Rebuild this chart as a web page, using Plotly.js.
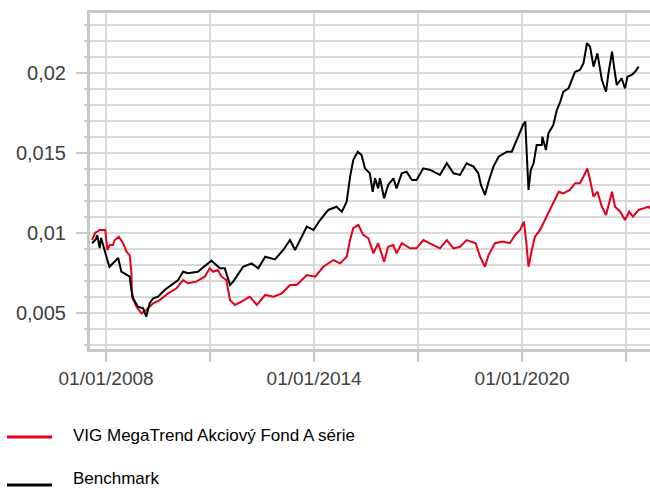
<!DOCTYPE html>
<html>
<head>
<meta charset="utf-8">
<script src="https://cdn.plot.ly/plotly-3.0.1.min.js"></script>
<style>html,body{margin:0;padding:0;background:#fff;}#chart{width:650px;height:488px;}</style>
</head>
<body>
<div id="chart"></div>
<script>
const fundName = "VIG MegaTrend Akciový Fond A série";
const benchName = "Benchmark";

const fundDates = ["2007-08-07","2007-09-08","2007-10-26","2007-12-24","2008-01-15","2008-02-10","2008-03-14","2008-04-01","2008-05-15","2008-06-28","2008-08-04","2008-09-06","2008-09-24","2008-10-01","2008-11-17","2009-01-08","2009-02-27","2009-05-12","2009-07-20","2009-10-16","2010-01-12","2010-03-22","2010-05-15","2010-08-08","2010-11-06","2010-12-28","2011-02-03","2011-03-25","2011-05-01","2011-06-20","2011-07-30","2011-09-20","2011-11-28","2012-02-24","2012-05-08","2012-08-04","2012-10-30","2013-01-26","2013-04-22","2013-07-01","2013-10-16","2014-01-12","2014-04-08","2014-07-22","2014-10-01","2014-12-10","2015-01-15","2015-02-17","2015-04-12","2015-06-02","2015-07-27","2015-09-17","2015-11-06","2016-01-08","2016-02-20","2016-04-15","2016-05-18","2016-07-12","2016-10-08","2016-12-15","2017-02-24","2017-06-10","2017-08-18","2017-10-30","2018-01-08","2018-03-18","2018-05-26","2018-08-30","2018-10-15","2018-12-06","2019-01-12","2019-03-22","2019-06-10","2019-08-24","2019-10-20","2019-12-10","2020-01-20","2020-02-15","2020-03-08","2020-04-12","2020-05-15","2020-07-08","2020-08-28","2020-10-22","2020-12-14","2021-01-20","2021-03-10","2021-05-18","2021-07-12","2021-09-01","2021-10-08","2021-11-18","2021-12-17","2022-01-22","2022-03-04","2022-04-20","2022-06-03","2022-07-08","2022-08-05","2022-09-06","2022-10-30","2022-12-20","2023-02-01","2023-03-14","2023-05-12","2023-07-01","2023-08-25","2023-09-15"];
const fundValues = [0.00956,0.01000,0.01019,0.01019,0.00894,0.00925,0.00925,0.00956,0.00977,0.00936,0.00883,0.00862,0.00758,0.00602,0.00539,0.00498,0.00519,0.00561,0.00581,0.00623,0.00654,0.00706,0.00686,0.00696,0.00727,0.00779,0.00758,0.00769,0.00727,0.00706,0.00581,0.00550,0.00571,0.00602,0.00550,0.00613,0.00602,0.00623,0.00675,0.00675,0.00737,0.00727,0.00789,0.00831,0.00810,0.00852,0.00956,0.01030,0.01050,0.00988,0.00967,0.00873,0.00936,0.00821,0.00914,0.00925,0.00873,0.00936,0.00904,0.00904,0.00956,0.00925,0.00904,0.00956,0.00904,0.00914,0.00956,0.00936,0.00852,0.00789,0.00862,0.00936,0.00946,0.00936,0.00988,0.01019,0.01071,0.00936,0.00789,0.00894,0.00977,0.01019,0.01081,0.01144,0.01206,0.01258,0.01248,0.01269,0.01311,0.01311,0.01352,0.01404,0.01331,0.01227,0.01258,0.01164,0.01113,0.01186,0.01258,0.01164,0.01133,0.01081,0.01133,0.01102,0.01144,0.01154,0.01164,0.01150];

const benchDates = ["2007-08-07","2007-09-15","2007-10-01","2007-10-26","2007-11-10","2007-12-16","2008-01-05","2008-02-06","2008-03-14","2008-05-08","2008-06-10","2008-08-04","2008-09-06","2008-09-24","2008-10-12","2008-12-01","2009-01-26","2009-02-27","2009-04-05","2009-05-12","2009-07-01","2009-09-09","2009-11-17","2010-01-30","2010-03-22","2010-05-15","2010-08-25","2010-11-20","2011-01-15","2011-03-07","2011-04-15","2011-06-05","2011-07-30","2011-09-01","2011-10-08","2011-12-15","2012-03-14","2012-05-22","2012-08-04","2012-11-14","2013-02-10","2013-04-22","2013-06-14","2013-08-08","2013-10-16","2013-12-25","2014-03-05","2014-05-30","2014-08-25","2014-10-20","2014-12-10","2015-01-15","2015-02-17","2015-04-05","2015-05-15","2015-06-20","2015-08-10","2015-09-10","2015-10-05","2015-11-06","2015-11-25","2016-01-08","2016-02-20","2016-04-15","2016-05-18","2016-07-12","2016-09-01","2016-10-27","2016-12-15","2017-02-24","2017-05-08","2017-08-18","2017-10-30","2018-01-08","2018-03-18","2018-05-26","2018-08-07","2018-09-27","2018-10-24","2018-12-06","2019-01-12","2019-03-05","2019-04-28","2019-07-24","2019-09-14","2019-11-20","2020-01-10","2020-02-03","2020-02-20","2020-03-08","2020-04-01","2020-05-01","2020-06-02","2020-07-26","2020-08-01","2020-09-08","2020-10-04","2020-11-24","2021-01-01","2021-02-06","2021-03-10","2021-05-04","2021-06-06","2021-07-12","2021-09-01","2021-10-08","2021-11-14","2021-12-17","2022-01-22","2022-03-04","2022-04-20","2022-06-03","2022-06-28","2022-08-05","2022-08-26","2022-09-24","2022-11-14","2022-12-20","2023-01-15","2023-02-28","2023-04-05","2023-05-12"];
const benchValues = [0.00936,0.00960,0.00987,0.00906,0.00969,0.00883,0.00852,0.00789,0.00812,0.00844,0.00758,0.00737,0.00727,0.00644,0.00592,0.00539,0.00529,0.00477,0.00561,0.00592,0.00602,0.00644,0.00675,0.00706,0.00758,0.00748,0.00758,0.00800,0.00827,0.00800,0.00779,0.00779,0.00675,0.00696,0.00727,0.00789,0.00810,0.00779,0.00852,0.00835,0.00894,0.00956,0.00894,0.00956,0.01040,0.01019,0.01081,0.01144,0.01164,0.01133,0.01196,0.01352,0.01456,0.01508,0.01488,0.01404,0.01373,0.01258,0.01342,0.01279,0.01342,0.01217,0.01300,0.01342,0.01279,0.01373,0.01383,0.01331,0.01331,0.01404,0.01394,0.01363,0.01436,0.01373,0.01363,0.01436,0.01415,0.01373,0.01300,0.01238,0.01320,0.01415,0.01477,0.01508,0.01508,0.01602,0.01675,0.01696,0.01477,0.01269,0.01394,0.01436,0.01550,0.01550,0.01602,0.01519,0.01623,0.01675,0.01769,0.01821,0.01883,0.01904,0.01956,0.02008,0.02019,0.02060,0.02186,0.02164,0.02040,0.02123,0.01956,0.01883,0.01998,0.02133,0.02040,0.01925,0.01967,0.01904,0.01977,0.01988,0.02008,0.02040];

const xTickVals = ["2008-01-01","2011-01-01","2014-01-01","2017-01-01","2020-01-01","2023-01-01"];
const xTickText = ["01/01/2008","","01/01/2014","","01/01/2020",""];

const fundColor = "#e2001a";
const benchColor = "#000000";
const gridColor = "#d9d9d9";
const axisColor = "#c8c8c8";
const labelColor = "#404040";

const traces = [
  {x: fundDates, y: fundValues, type: "scatter", mode: "lines", name: fundName,
   line: {color: fundColor, width: 2}},
  {x: benchDates, y: benchValues, type: "scatter", mode: "lines", name: benchName,
   line: {color: benchColor, width: 2}}
];

const pw = 560, ph = 336; // plot area size (px)
const px2x = p => (p - 90) / pw;
const py2y = p => (349 - p) / ph;

const layout = {
  width: 650, height: 488,
  margin: {l: 90, r: 0, t: 13, b: 139, pad: 0},
  paper_bgcolor: "#fff", plot_bgcolor: "#fff",
  separators: ", ",
  showlegend: false,
  font: {family: "Liberation Sans, Arial, sans-serif", color: labelColor},
  xaxis: {
    type: "date",
    range: ["2007-07-16", "2023-09-09"],
    tickmode: "array", tickvals: xTickVals, ticktext: xTickText,
    showgrid: true, gridcolor: gridColor, gridwidth: 2,
    showline: true, linecolor: axisColor, linewidth: 3, mirror: true,
    ticks: "outside", ticklen: 10, tickwidth: 2, tickcolor: axisColor,
    tickfont: {size: 19, color: labelColor},
    zeroline: false
  },
  yaxis: {
    range: [0.00275, 0.02375],
    tickmode: "linear", tick0: 0, dtick: 0.005,
    showgrid: true, gridcolor: gridColor, gridwidth: 2,
    showline: true, linecolor: axisColor, linewidth: 3,
    ticks: "outside", ticklen: 11, tickwidth: 2, tickcolor: axisColor,
    tickfont: {size: 20, color: labelColor},
    ticklabelstandoff: 6,
    zeroline: false,
    minor: {dtick: 0.001, tick0: 0, showgrid: true, gridcolor: gridColor, gridwidth: 2,
            ticks: "outside", ticklen: 3, tickwidth: 2, tickcolor: axisColor}
  },
  shapes: [
    {type: "line", xref: "paper", yref: "paper", x0: px2x(7), x1: px2x(52), y0: py2y(437), y1: py2y(437),
     line: {color: fundColor, width: 3}},
    {type: "line", xref: "paper", yref: "paper", x0: px2x(7), x1: px2x(52), y0: py2y(485), y1: py2y(485),
     line: {color: benchColor, width: 3}}
  ],
  annotations: [
    {xref: "paper", yref: "paper", x: px2x(71), y: py2y(435), xanchor: "left", yanchor: "middle",
     text: fundName, showarrow: false,
     font: {family: "Liberation Sans, Arial", size: 17, color: "#000"}},
    {xref: "paper", yref: "paper", x: px2x(71), y: py2y(478), xanchor: "left", yanchor: "middle",
     text: benchName, showarrow: false,
     font: {family: "Liberation Sans, Arial", size: 17, color: "#000"}}
  ]
};

Plotly.newPlot("chart", traces, layout, {displayModeBar: false, staticPlot: true});
</script>
</body>
</html>
